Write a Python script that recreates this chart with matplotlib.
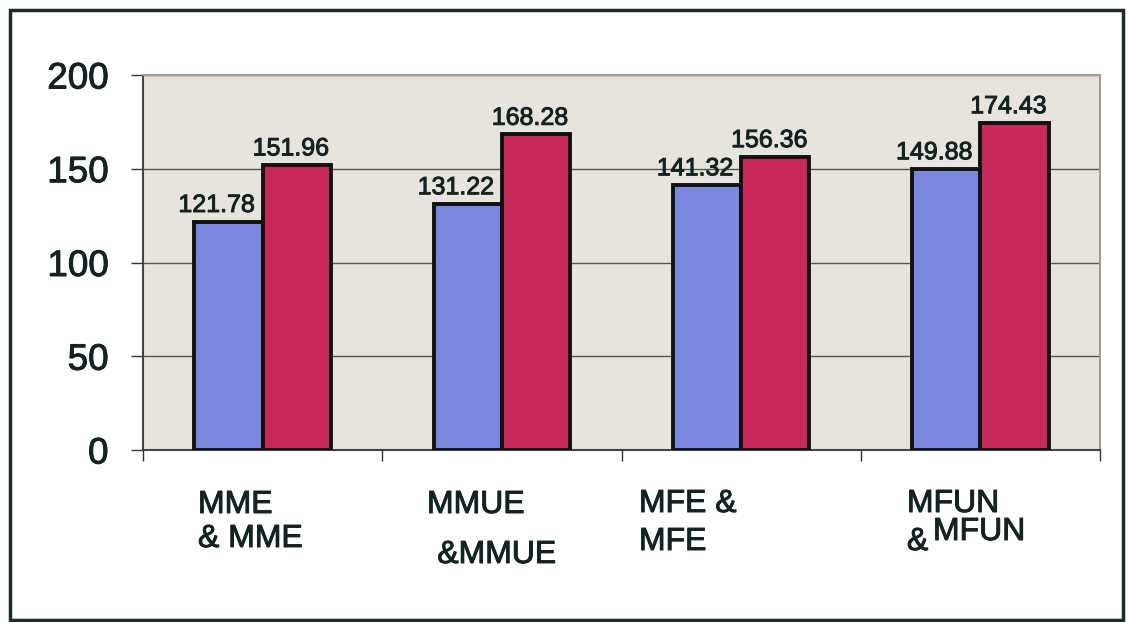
import matplotlib
matplotlib.use('Agg')
import matplotlib.pyplot as plt
import matplotlib.transforms as mtransforms
import matplotlib.patheffects as pe
from matplotlib.patches import Rectangle
import numpy as np

plt.rcParams['font.family'] = ['Liberation Sans', 'DejaVu Sans']

# data
categories = ['MME & MME', 'MMUE &MMUE', 'MFE & MFE', 'MFUN & MFUN']
series_a = [121.78, 131.22, 141.32, 149.88]
series_b = [151.96, 168.28, 156.36, 174.43]
y_ticks = [0, 50, 100, 150, 200]

ink = '#152222'
heavy = [pe.withStroke(linewidth=0.7, foreground=ink)]

fig = plt.figure(figsize=(11.28, 6.22), dpi=100)
ax = fig.add_axes([143 / 1128, 1 - 450 / 622, (1100 - 143) / 1128, (450 - 75) / 622])

x = np.arange(len(categories))
w = 0.285
ax.bar(x - w / 2, series_a, w, color='#7b86de', edgecolor='#111111', linewidth=2.8, zorder=3)
ax.bar(x + w / 2, series_b, w, color='#c8285a', edgecolor='#111111', linewidth=2.8, zorder=3)

for xi, v in zip(x - w / 2, series_a):
    ax.text(xi - 0.05, v + 2.5, f'{v:.2f}', ha='center', va='bottom', fontsize=18,
            color=ink, path_effects=heavy)
for xi, v in zip(x + w / 2, series_b):
    ax.text(xi - 0.025, v + 2.5, f'{v:.2f}', ha='center', va='bottom', fontsize=18,
            color=ink, path_effects=heavy)

ax.set_xlim(-0.5, len(categories) - 0.5)
ax.set_ylim(0, 200)
ax.set_facecolor('#e7e4de')
ax.set_yticks(y_ticks)
ax.tick_params(axis='y', length=9, width=1, color='#333333', pad=16, labelsize=26.5, labelcolor=ink)
for lab in ax.get_yticklabels():
    lab.set_path_effects(heavy)
ax.set_xticks(np.arange(len(categories) + 1) - 0.5)
ax.set_xticklabels([])
ax.tick_params(axis='x', length=8, width=1, color='#333333', direction='out')
ax.yaxis.grid(True, color='#555555', linewidth=1, zorder=0)
ax.set_axisbelow(True)

ax.spines['left'].set_color('#444444')
ax.spines['bottom'].set_color('#444444')
ax.spines['top'].set_color('#a89a88')
ax.spines['right'].set_color('#a89a88')
for s in ax.spines.values():
    s.set_linewidth(1.5)

# category labels, broken over two lines the way the original has them
trans = mtransforms.blended_transform_factory(ax.transData, fig.transFigure)
label_lines = [
    [('MME', -0.27, 513), ('& MME', -0.27, 547)],
    [('MMUE', -0.313, 513), ('&MMUE', -0.27, 563)],
    [('MFE &', -0.427, 512), ('MFE', -0.427, 550)],
    [('MFUN', -0.307, 512), ('&', -0.307, 550), ('MFUN', -0.198, 540)],
]
for i, lines in enumerate(label_lines):
    for txt, dx, py in lines:
        ax.text(i + dx, 1 - py / 622, txt, transform=trans, ha='left', va='baseline',
                fontsize=23, color=ink, path_effects=heavy)

# outer frame
fig.patches.append(Rectangle((10 / 1128, 1 - 620 / 622), 1113 / 1128, 610 / 622,
                             transform=fig.transFigure, fill=False, edgecolor='#1c2a2a', linewidth=2.5))

fig.savefig('out.png', dpi=100, facecolor='white')
